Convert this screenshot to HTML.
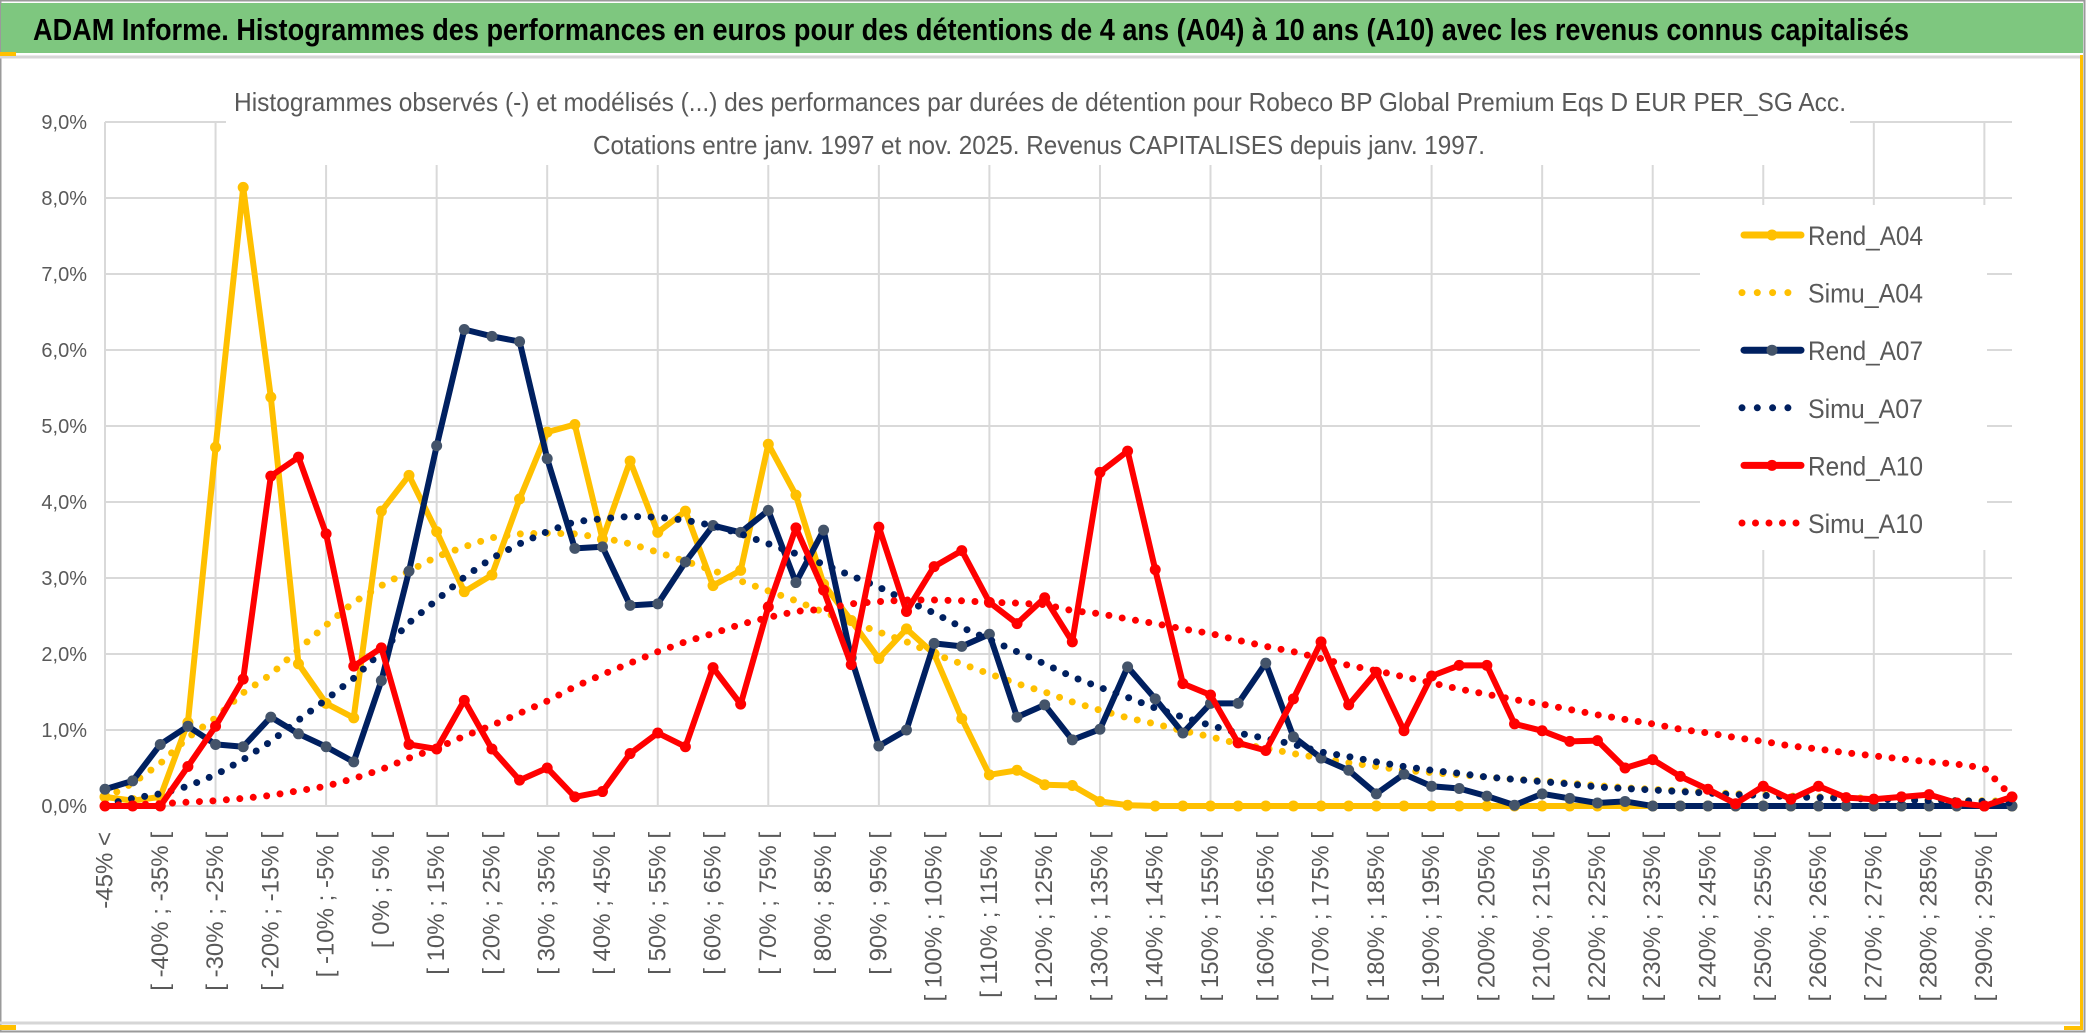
<!DOCTYPE html>
<html><head><meta charset="utf-8">
<style>
html,body{margin:0;padding:0;background:#fff;}
svg{display:block;font-family:"Liberation Sans",sans-serif;}
</style></head>
<body>
<svg id="chart" xmlns="http://www.w3.org/2000/svg" width="2086" height="1033" viewBox="0 0 2086 1033">
  <rect x="0" y="0" width="2086" height="1033" fill="#fff"/>
  <rect x="0.5" y="0.5" width="2084" height="1031" fill="none" stroke="#9a9a9a" stroke-width="2"/>
  <rect x="1" y="3" width="2082" height="50" fill="#7ec77f"/>
  <line x1="0" y1="57" x2="2080" y2="57" stroke="#d6d6d6" stroke-width="3"/>
  <line x1="0" y1="1023" x2="2080" y2="1023" stroke="#d6d6d6" stroke-width="3"/>
  <rect x="0" y="52" width="16" height="4" fill="#ffc000"/>
  <rect x="0" y="1025" width="16" height="5" fill="#ffc000"/>
  <rect x="2080" y="55" width="3" height="975" fill="#ffc000"/>
  <rect x="2064" y="1026" width="18" height="4" fill="#ffc000"/>
  <text x="33" y="40" font-size="31" font-weight="bold" fill="#000" textLength="1876" lengthAdjust="spacingAndGlyphs">ADAM Informe. Histogrammes des performances en euros pour des détentions de 4 ans (A04) à 10 ans (A10) avec les revenus connus capitalisés</text>
  <g id="grid"></g>
  <rect x="226" y="78" width="1624" height="87" fill="#fff"/>
  <text x="234" y="111" font-size="26" fill="#595959" textLength="1612" lengthAdjust="spacingAndGlyphs">Histogrammes observés (-) et modélisés (...) des performances par durées de détention pour Robeco BP Global Premium Eqs D EUR PER_SG Acc.</text>
  <text x="593" y="154" font-size="26" fill="#595959" textLength="892" lengthAdjust="spacingAndGlyphs">Cotations entre janv. 1997 et nov. 2025. Revenus CAPITALISES depuis janv. 1997.</text>
  <g id="yaxis"></g>
  <g id="xaxis"></g>
  <g id="series"></g>
  <rect x="1700" y="205" width="287" height="345" fill="#fff"/>
  <g id="legend"></g>
</svg>
<script>
const yTicks = [0,1,2,3,4,5,6,7,8,9];
const rendA04 = [0.12,0.07,0.12,1.1,4.72,8.14,5.38,1.87,1.35,1.16,3.88,4.35,3.61,2.82,3.04,4.04,4.92,5.02,3.51,4.54,3.6,3.88,2.9,3.1,4.76,4.09,2.92,2.44,1.94,2.33,2.0,1.15,0.41,0.47,0.28,0.27,0.06,0.01,0,0,0,0,0,0,0,0,0,0,0,0,0,0,0,0,0,0,0,0,0,0,0,0,0,0,0,0,0,0,0,0];
const simuA04 = [0.1,0.3,0.56,0.9,1.16,1.49,1.73,2.06,2.38,2.68,2.9,3.09,3.28,3.41,3.53,3.58,3.59,3.58,3.53,3.45,3.34,3.22,3.1,2.96,2.83,2.7,2.55,2.42,2.29,2.16,2.0,1.87,1.74,1.61,1.5,1.37,1.26,1.16,1.08,0.99,0.91,0.82,0.76,0.69,0.63,0.57,0.52,0.47,0.44,0.41,0.38,0.35,0.33,0.3,0.27,0.24,0.22,0.2,0.18,0.16,0.15,0.13,0.12,0.11,0.1,0.09,0.08,0.07,0.07,0.06];
const rendA07 = [0.22,0.33,0.81,1.05,0.81,0.78,1.17,0.95,0.78,0.58,1.65,3.09,4.74,6.27,6.18,6.11,4.57,3.39,3.41,2.64,2.66,3.21,3.69,3.6,3.89,2.94,3.63,1.95,0.79,1.0,2.14,2.1,2.26,1.17,1.33,0.87,1.01,1.83,1.41,0.96,1.35,1.35,1.88,0.91,0.63,0.47,0.16,0.42,0.26,0.23,0.13,0.01,0.16,0.1,0.04,0.06,0,0,0,0,0,0,0,0,0,0,0,0,0,0];
const simuA07 = [0.02,0.1,0.16,0.26,0.41,0.61,0.85,1.13,1.4,1.68,2.03,2.41,2.71,3.01,3.26,3.45,3.61,3.74,3.78,3.81,3.8,3.76,3.69,3.58,3.45,3.32,3.18,3.03,2.88,2.7,2.54,2.35,2.19,2.03,1.87,1.7,1.56,1.43,1.29,1.17,1.06,0.96,0.89,0.81,0.71,0.65,0.58,0.52,0.47,0.43,0.38,0.35,0.32,0.29,0.25,0.23,0.21,0.19,0.17,0.15,0.14,0.12,0.11,0.1,0.09,0.08,0.07,0.07,0.06,0.04];
const rendA10 = [0,0,0,0.52,1.05,1.67,4.34,4.59,3.58,1.84,2.08,0.81,0.75,1.39,0.75,0.34,0.5,0.12,0.19,0.69,0.96,0.78,1.82,1.34,2.62,3.66,2.84,1.86,3.67,2.56,3.15,3.36,2.68,2.4,2.74,2.16,4.39,4.67,3.11,1.61,1.46,0.83,0.73,1.41,2.16,1.33,1.76,0.99,1.71,1.85,1.85,1.08,0.99,0.85,0.86,0.5,0.61,0.39,0.22,0.03,0.26,0.09,0.26,0.11,0.09,0.12,0.15,0.04,0,0.12];
const simuA10 = [0.01,0.02,0.03,0.05,0.07,0.1,0.14,0.2,0.26,0.36,0.48,0.63,0.76,0.92,1.06,1.22,1.38,1.57,1.73,1.88,2.03,2.16,2.27,2.39,2.48,2.56,2.59,2.66,2.69,2.71,2.71,2.7,2.68,2.67,2.65,2.57,2.53,2.46,2.4,2.33,2.27,2.18,2.1,2.03,1.94,1.85,1.78,1.7,1.62,1.54,1.47,1.4,1.34,1.27,1.2,1.14,1.08,1.01,0.96,0.9,0.85,0.79,0.75,0.7,0.66,0.62,0.58,0.55,0.5,0.12];
const seriesNames = ["Rend_A04","Simu_A04","Rend_A07","Simu_A07","Rend_A10","Simu_A10"];

// categories
const categories = ["-45% <"];
for (let i = 1; i < 70; i++) { const a = -50 + 5 * i; categories.push("[ " + a + "% ; " + (a + 5) + "% ["); }

const NS = "http://www.w3.org/2000/svg";
const X0 = 105, X1 = 2012, Y0 = 806, PER = 76;
function xPos(i){ return X0 + i * (X1 - X0) / (categories.length - 1); }
function yPos(v){ return Y0 - v * PER; }
function mk(tag, attrs, parent){ const e = document.createElementNS(NS, tag); for (const k in attrs) e.setAttribute(k, attrs[k]); parent.appendChild(e); return e; }

const grid = document.getElementById('grid');
yTicks.forEach(t => {
  const l = mk('line', {x1:X0, x2:X1, y1:yPos(t), y2:yPos(t), stroke:'#d9d9d9', 'stroke-width':2}, grid);
  
  
});
for (let i = 0; i < categories.length; i += 4) {
  const l = mk('line', {x1:xPos(i), x2:xPos(i), y1:yPos(9), y2:Y0, stroke:'#d9d9d9', 'stroke-width':2}, grid);
  
  
}

const yaxis = document.getElementById('yaxis');
yTicks.forEach(t => {
  const tx = mk('text', {x:87, y:yPos(t) + 7, 'text-anchor':'end', 'font-size':20, fill:'#595959'}, yaxis);
  
  
  tx.textContent = t.toFixed(1).replace('.', ',') + '%';
});

const xaxis = document.getElementById('xaxis');
for (let i = 0; i < categories.length; i += 2) {
  const x = xPos(i);
  const tx = mk('text', {x:x, y:832, 'text-anchor':'end', 'dominant-baseline':'central', 'font-size':24, fill:'#595959', transform:'rotate(-90 ' + x + ' 832)'}, xaxis);
  
  
  tx.textContent = categories[i];
}

const seriesLayer = document.getElementById('series');
function pts(arr){ return arr.map((v, i) => xPos(i).toFixed(1) + ',' + yPos(v).toFixed(1)).join(' '); }
function solid(arr, color, mcolor, name){
  const g = mk('g', {}, seriesLayer);
  
  
  const p = mk('polyline', {points:pts(arr), fill:'none', stroke:color, 'stroke-width':6, 'stroke-linejoin':'round'}, g);
  
  
  arr.forEach((v, i) => {
    const c = mk('circle', {cx:xPos(i), cy:yPos(v), r:5.5, fill:mcolor}, g);
    
    
  });
}
function dotted(arr, color, name){
  const p = mk('polyline', {points:pts(arr), fill:'none', stroke:color, 'stroke-width':7, 'stroke-linecap':'round', 'stroke-dasharray':'0 13.5'}, seriesLayer);
  
  
}
solid(rendA04, '#ffc000', '#ffc000', 'rend-a04');
dotted(simuA04, '#ffc000', 'simu-a04');
solid(rendA07, '#002060', '#44546a', 'rend-a07');
dotted(simuA07, '#002060', 'simu-a07');
solid(rendA10, '#ff0000', '#ff0000', 'rend-a10');
dotted(simuA10, '#ff0000', 'simu-a10');

const legend = document.getElementById('legend');
const legendStyles = [['#ffc000','#ffc000',0],['#ffc000','',1],['#002060','#44546a',0],['#002060','',1],['#ff0000','#ff0000',0],['#ff0000','',1]];
seriesNames.forEach((n, k) => {
  const cy = 235 + k * 57.6;
  const g = mk('g', {}, legend);
  
  
  const st = legendStyles[k];
  if (st[2]) {
    const l = mk('line', {x1:1742, x2:k === 5 ? 1800 : 1790, y1:cy + (k===5?0:0), y2:cy, stroke:st[0], 'stroke-width':7, 'stroke-linecap':'round', 'stroke-dasharray': k === 5 ? '0 13.5' : '0 15.3'}, g);
    
    
  } else {
    const l = mk('line', {x1:1744, x2:1801, y1:cy, y2:cy, stroke:st[0], 'stroke-width':7, 'stroke-linecap':'round'}, g);
    
    
    const c = mk('circle', {cx:1772, cy:cy, r:5.5, fill:st[1]}, g);
    
    
  }
  const t = mk('text', {x:1808, y:cy + 10, 'font-size':27, fill:'#595959', textLength:115, lengthAdjust:'spacingAndGlyphs'}, g);
  
  
  t.textContent = n;
});
</script>
</body></html>
